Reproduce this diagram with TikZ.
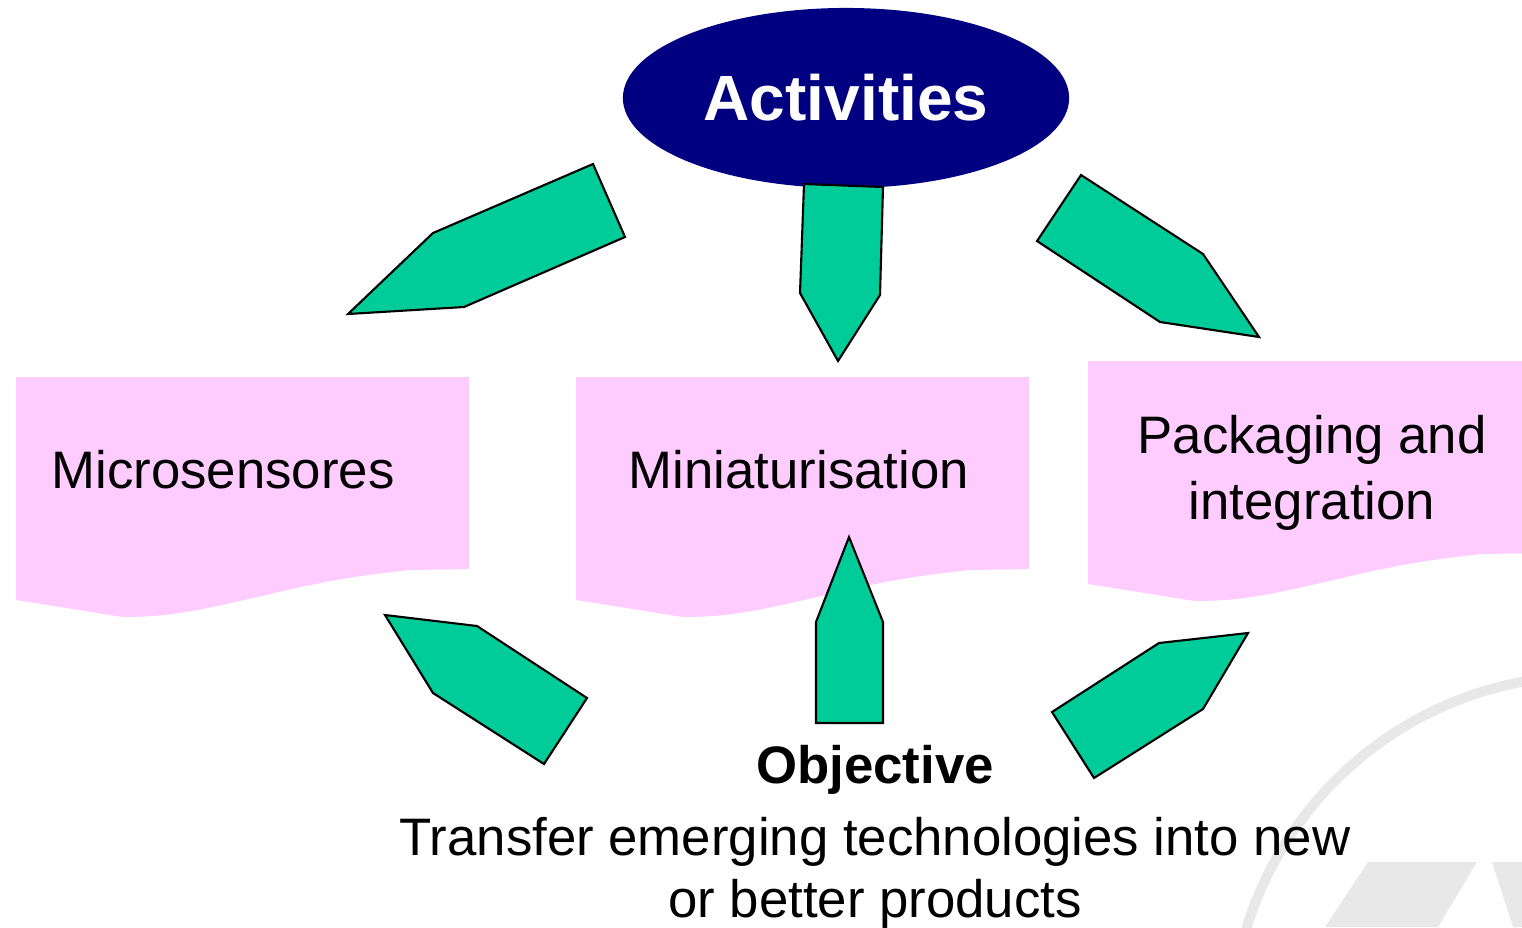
\documentclass[tikz,border=0pt]{standalone}
\usepackage{fontspec}
\setsansfont{Liberation Sans}
\usetikzlibrary{shapes.geometric}
\begin{document}
\begin{tikzpicture}[x=0.01cm,y=-0.01cm,font=\sffamily]
  \definecolor{navy}{HTML}{000080}
  \definecolor{sea}{HTML}{00CC99}
  \definecolor{blush}{HTML}{FFCCFF}
  \definecolor{logogray}{HTML}{E8E8E8}
  \useasboundingbox (0,0) rectangle (1522,927);
  \begin{scope}
    \clip (0,0) rectangle (1522,927);
    % faint logo in the corner
    \draw[logogray,line width=0.1cm] (1588,1033) circle [radius=3.57cm];
    \fill[logogray] (1368,862) -- (1477,862) -- (1438,927) -- (1325,927) -- cycle;
    \fill[logogray] (1492,862) -- (1522,862) -- (1522,927) -- (1513,927) -- cycle;
    % wavy-bottomed boxes
    \foreach \x/\y in {16/377,576/377,1088/361}
      \fill[blush,shift={(\x,\y)}] (0,0) -- (453,0) -- (453,192) -- (394,193)
        .. controls (324,200) and (284,210) .. (237,221)
        .. controls (184,233) and (154,240) .. (107,240) -- (0,223) -- cycle;
  \end{scope}

  \node[ellipse,fill=navy,minimum width=4.46cm,minimum height=1.8cm,inner sep=0pt,
    text=white,font=\sffamily\bfseries\fontsize{18.2}{22}\selectfont] (act) at (846,98) {Activities};

  \tikzset{blockarrow/.style={fill=sea,draw=black,line width=0.6pt}}
  \draw[blockarrow] (593,164) -- (625,237) -- (464,307) -- (348,314) -- (433,233) -- cycle;
  \draw[blockarrow] (804,184) -- (883,187) -- (880,295) -- (838,361) -- (800,293) -- cycle;
  \draw[blockarrow] (1081,175) -- (1203,254) -- (1259,337) -- (1160,322) -- (1037,241) -- cycle;
  \draw[blockarrow] (587,698) -- (544,764) -- (433,693) -- (385,615) -- (477,626) -- cycle;
  \draw[blockarrow] (816,723) -- (883,723) -- (883,622) -- (849,537) -- (816,622) -- cycle;
  \draw[blockarrow] (1052,712) -- (1094,778) -- (1203,709) -- (1248,633) -- (1159,643) -- cycle;

  % base of a two-line node is its last line
  \tikzset{boxtext/.style={anchor=base,inner sep=0pt,align=center,
    font=\sffamily\fontsize{15}{18.5}\selectfont}}
  \node[boxtext] (micro) at (223,488) {Microsensores};
  \node[boxtext] (mini) at (799,488) {Miniaturisation};
  \node[boxtext] (pack) at (1312,519) {Packaging and\\integration};

  \node[boxtext,font=\sffamily\bfseries\fontsize{15}{18}\selectfont] (obj) at (875,783) {Objective};
  \node[boxtext,font=\sffamily\fontsize{15}{17.6}\selectfont] (aim) at (875,917)
    {Transfer emerging technologies into new\\or better products};
\end{tikzpicture}
\end{document}
